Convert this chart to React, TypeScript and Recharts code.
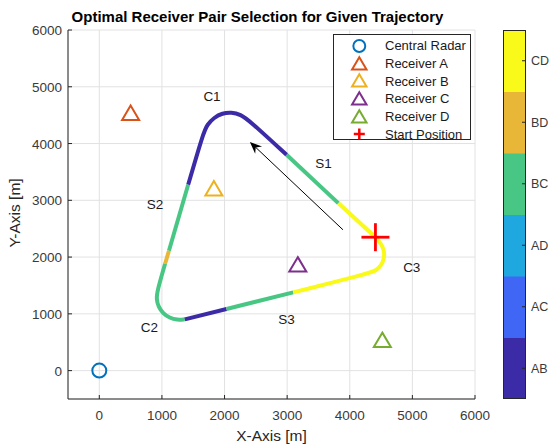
import {
  ScatterChart,
  Scatter,
  XAxis,
  YAxis,
  CartesianGrid,
  Legend,
  BarChart,
  Bar,
  Cell,
} from 'recharts';

const FONT = '"Liberation Sans", Arial, Helvetica, sans-serif';
const INK = '#262626';
const TICK_TEXT = '#3a3a3a';
const GRID = '#e2e2e2';

const axisTicks = [0, 1000, 2000, 3000, 4000, 5000, 6000];
const axisDomain: [number, number] = [-500, 6000];

// receiver pairs on the colorbar, bottom to top
const pairs = ['AB', 'AC', 'AD', 'BC', 'BD', 'CD'];
const pairColors: Record<string, string> = {
  AB: '#3b2ba6',
  AC: '#3f66f4',
  AD: '#1ea8df',
  BC: '#47c684',
  BD: '#e8b737',
  CD: '#f9f91a',
};

const radar = [{ x: 0, y: 0 }];
const receiverA = [{ x: 500, y: 4500 }];
const receiverB = [{ x: 1830, y: 3170 }];
const receiverC = [{ x: 3170, y: 1830 }];
const receiverD = [{ x: 4520, y: 500 }];
const startPoint = [{ x: 4410, y: 2350 }];

// trajectory in travel order, split wherever the selected pair changes
const legS1a = [{ x: 4410, y: 2350 }, { x: 3816, y: 2951 }];
const legS1b = [{ x: 3816, y: 2951 }, { x: 2991, y: 3801 }];
const legC1 = [
  { x: 2991, y: 3801 }, { x: 2387, y: 4413 }, { x: 2259, y: 4510 }, { x: 2109, y: 4553 },
  { x: 1965, y: 4535 }, { x: 1833, y: 4458 }, { x: 1724, y: 4334 }, { x: 1662, y: 4191 },
  { x: 1419, y: 3273 },
];
const legS2a = [{ x: 1419, y: 3273 }, { x: 1112, y: 2111 }];
const legS2b = [{ x: 1112, y: 2111 }, { x: 1051, y: 1883 }];
const legC2 = [
  { x: 1051, y: 1883 }, { x: 925, y: 1406 }, { x: 912, y: 1256 }, { x: 944, y: 1123 },
  { x: 1018, y: 1008 }, { x: 1122, y: 927 }, { x: 1243, y: 892 }, { x: 1365, y: 903 },
];
const legS3a = [{ x: 1365, y: 903 }, { x: 2032, y: 1086 }];
const legS3b = [{ x: 2032, y: 1086 }, { x: 3097, y: 1378 }];
const legC3 = [
  { x: 3097, y: 1378 }, { x: 4322, y: 1716 }, { x: 4425, y: 1767 }, { x: 4500, y: 1849 },
  { x: 4544, y: 1955 }, { x: 4554, y: 2073 }, { x: 4527, y: 2185 }, { x: 4458, y: 2289 },
  { x: 4410, y: 2350 },
];

const legPairs = ['CD', 'BC', 'AB', 'BC', 'BD', 'BC', 'AB', 'BC', 'CD'];
const legs = [legS1a, legS1b, legC1, legS2a, legS2b, legC2, legS3a, legS3b, legC3];

// direction-of-travel arrow (tail, head)
const travelArrow = [{ x: 3891, y: 2481 }, { x: 2405, y: 4029 }];

const pathLabels = [
  { x: 1800, y: 4830, name: 'C1' },
  { x: 3580, y: 3650, name: 'S1' },
  { x: 890, y: 2920, name: 'S2' },
  { x: 800, y: 760, name: 'C2' },
  { x: 2990, y: 900, name: 'S3' },
  { x: 4990, y: 1810, name: 'C3' },
];

const markers = [
  { name: 'Central Radar', kind: 'circle', color: '#0072bd', data: radar },
  { name: 'Receiver A', kind: 'triangle', color: '#d95319', data: receiverA },
  { name: 'Receiver B', kind: 'triangle', color: '#edb120', data: receiverB },
  { name: 'Receiver C', kind: 'triangle', color: '#7e2f8e', data: receiverC },
  { name: 'Receiver D', kind: 'triangle', color: '#77ac30', data: receiverD },
  { name: 'Start Position', kind: 'cross', color: '#ff0000', data: startPoint },
];

const colorbarData = pairs.map((pair) => ({ pair, band: 1 }));

function Mark({ kind, color, cx, cy, small }: any) {
  const s = small ? 0.85 : 1;
  if (kind === 'circle') {
    return <circle cx={cx} cy={cy} r={7 * s} fill="none" stroke={color} strokeWidth={2} />;
  }
  if (kind === 'triangle') {
    const w = 8.5 * s;
    return (
      <path
        d={`M${cx},${cy - 9.6 * s}L${cx + w},${cy + 4.8 * s}L${cx - w},${cy + 4.8 * s}Z`}
        fill="none"
        stroke={color}
        strokeWidth={2}
      />
    );
  }
  const a = small ? 5.5 : 14;
  return (
    <g stroke={color} strokeWidth={small ? 2.5 : 2.8}>
      <line x1={cx - a} y1={cy} x2={cx + a} y2={cy} />
      <line x1={cx} y1={cy - a} x2={cx} y2={cy + a} />
    </g>
  );
}

const NoDot = () => <g />;

function ArrowLine(props: any) {
  const pts = props.points;
  if (!pts || pts.length < 2) return <g />;
  const a = pts[0];
  const b = pts[pts.length - 1];
  const dx = b.x - a.x;
  const dy = b.y - a.y;
  const len = Math.hypot(dx, dy);
  const ux = dx / len;
  const uy = dy / len;
  const px = -uy;
  const py = ux;
  const L = 12;
  const W = 5;
  const N = 8;
  const head =
    `M${b.x},${b.y}` +
    `L${b.x - ux * L + px * W},${b.y - uy * L + py * W}` +
    `L${b.x - ux * N},${b.y - uy * N}` +
    `L${b.x - ux * L - px * W},${b.y - uy * L - py * W}Z`;
  return (
    <g>
      <line x1={a.x} y1={a.y} x2={b.x - ux * N} y2={b.y - uy * N} stroke="#000" strokeWidth={1} />
      <path d={head} fill="#000" />
    </g>
  );
}

const renderXTick = (p: any) => (
  <g>
    <line x1={p.x} y1={p.y} x2={p.x} y2={p.y - 4} stroke={INK} />
    <text x={p.x} y={p.y + 21} textAnchor="middle" fontSize={13.5} fill={TICK_TEXT} fontFamily={FONT}>
      {p.payload.value}
    </text>
  </g>
);

const renderYTick = (p: any) => (
  <g>
    <line x1={p.x} y1={p.y} x2={p.x + 4} y2={p.y} stroke={INK} />
    <text x={p.x - 6} y={p.y + 5} textAnchor="end" fontSize={13.5} fill={TICK_TEXT} fontFamily={FONT}>
      {p.payload.value}
    </text>
  </g>
);

const renderBarTick = (p: any) => (
  <g>
    <line x1={p.x - 4} y1={p.y} x2={p.x} y2={p.y} stroke={INK} />
    <text x={p.x + 5} y={p.y + 4.5} textAnchor="start" fontSize={12.5} fill={TICK_TEXT} fontFamily={FONT}>
      {p.payload.value}
    </text>
  </g>
);

const renderLegend = () => (
  <div
    style={{
      position: 'relative',
      width: 138,
      height: 106,
      boxSizing: 'border-box',
      border: `1px solid ${INK}`,
      background: '#fff',
      fontFamily: FONT,
      fontSize: 13,
      color: '#1a1a1a',
    }}
  >
    {markers.map((m, i) => (
      <div
        key={m.name}
        style={{ position: 'absolute', left: 0, top: 1.8 + i * 17.7, height: 18, display: 'flex', alignItems: 'center' }}
      >
        <svg width={51} height={18} style={{ display: 'block' }}>
          <Mark kind={m.kind} color={m.color} cx={25.3} cy={m.kind === 'triangle' ? 10.5 : 9} small />
        </svg>
        <span style={{ whiteSpace: 'nowrap' }}>{m.name}</span>
      </div>
    ))}
  </div>
);

export default function App() {
  return (
    <div style={{ position: 'absolute', left: 0, top: 0, width: 552, height: 446, background: '#fff', fontFamily: FONT }}>
      <ScatterChart width={552} height={446} margin={{ top: 30, right: 77, bottom: 17, left: 8 }}>
        <CartesianGrid stroke={GRID} />
        <XAxis
          type="number"
          dataKey="x"
          domain={axisDomain}
          ticks={axisTicks}
          interval={0}
          height={30}
          tickSize={0}
          tickMargin={0}
          tickLine={false}
          axisLine={{ stroke: INK }}
          tick={renderXTick}
        />
        <YAxis
          type="number"
          dataKey="y"
          domain={axisDomain}
          ticks={axisTicks}
          interval={0}
          width={60}
          tickSize={0}
          tickMargin={0}
          tickLine={false}
          axisLine={{ stroke: INK }}
          tick={renderYTick}
        />
        {legs.map((leg, i) => (
          <Scatter
            key={`leg-${i}`}
            data={leg}
            fill={pairColors[legPairs[i]]}
            line={{ stroke: pairColors[legPairs[i]], strokeWidth: 4 }}
            lineJointType="basis"
            shape={NoDot}
            legendType="none"
            isAnimationActive={false}
          />
        ))}
        <Scatter
          data={travelArrow}
          line={ArrowLine}
          shape={NoDot}
          legendType="none"
          isAnimationActive={false}
        />
        <Scatter
          data={pathLabels}
          legendType="none"
          isAnimationActive={false}
          shape={(p: any) => (
            <text
              x={p.cx}
              y={p.cy}
              textAnchor="middle"
              dominantBaseline="central"
              fontSize={13.5}
              fill="#1a1a1a"
              fontFamily={FONT}
            >
              {p.payload.name}
            </text>
          )}
        />
        {markers.map((m) => (
          <Scatter
            key={m.name}
            name={m.name}
            data={m.data}
            fill={m.color}
            isAnimationActive={false}
            shape={(p: any) => <Mark kind={m.kind} color={m.color} cx={p.cx} cy={p.cy} />}
          />
        ))}
        <Legend
          layout="horizontal"
          align="center"
          verticalAlign="middle"
          wrapperStyle={{ left: 333, top: 34, width: 138, height: 106 }}
          content={renderLegend}
        />
        <text x={257.5} y={21.5} textAnchor="middle" fontSize={15} fontWeight="bold" fill="#000" fontFamily={FONT}>
          Optimal Receiver Pair Selection for Given Trajectory
        </text>
        <text x={271.5} y={441} textAnchor="middle" fontSize={15.5} fill={INK} fontFamily={FONT}>
          X-Axis [m]
        </text>
        <text
          transform="translate(19.5,213) rotate(-90)"
          textAnchor="middle"
          fontSize={15.5}
          fill={INK}
          fontFamily={FONT}
        >
          Y-Axis [m]
        </text>
      </ScatterChart>

      <div style={{ position: 'absolute', left: 503, top: 30 }}>
        <BarChart
          width={49}
          height={369}
          layout="vertical"
          data={colorbarData}
          margin={{ top: 0, right: 0, bottom: 0, left: 0 }}
          barCategoryGap={0}
        >
          <XAxis type="number" domain={[0, 1]} hide />
          <YAxis
            type="category"
            dataKey="pair"
            orientation="right"
            reversed
            width={26}
            interval={0}
            tickSize={0}
            tickMargin={0}
            tickLine={false}
            axisLine={false}
            tick={renderBarTick}
          />
          <Bar dataKey="band" isAnimationActive={false}>
            {colorbarData.map((d) => (
              <Cell key={d.pair} fill={pairColors[d.pair]} />
            ))}
          </Bar>
        </BarChart>
        <div
          style={{
            position: 'absolute',
            left: 0,
            top: 0,
            width: 23,
            height: 369,
            boxSizing: 'border-box',
            border: `1px solid ${INK}`,
            pointerEvents: 'none',
          }}
        />
      </div>
    </div>
  );
}
